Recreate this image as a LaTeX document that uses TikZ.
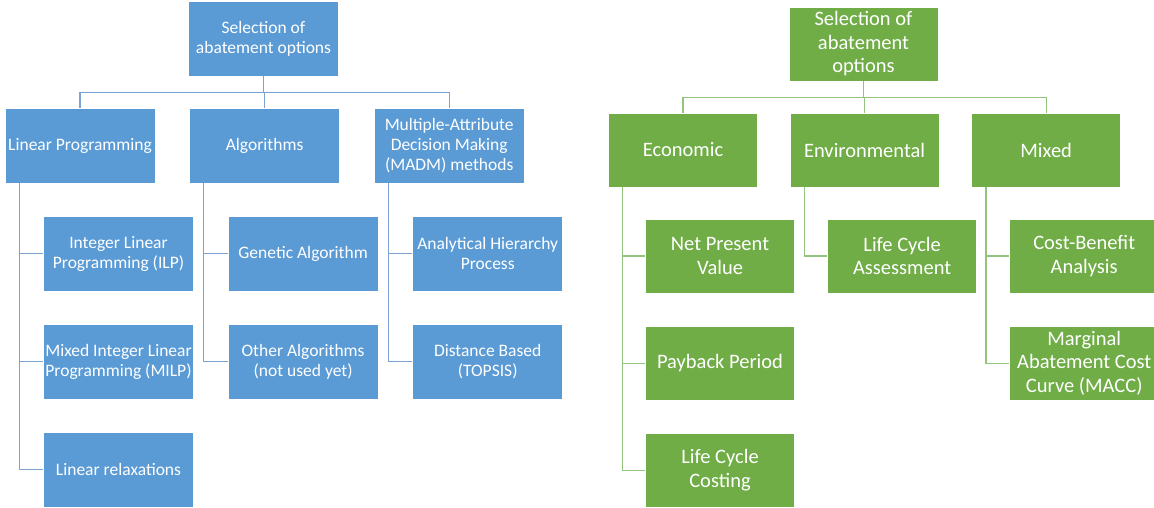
\documentclass[tikz,border=0pt]{standalone}
\usepackage{fontspec}
\setmainfont{Carlito}
\usepackage{xcolor}
\usepackage{tikz}
\usetikzlibrary{positioning}

\definecolor{boxblue}{HTML}{5B9BD5}
\definecolor{lineblue}{HTML}{7BA3D1}
\definecolor{boxgreen}{HTML}{70AD47}
\definecolor{linegreen}{HTML}{93C47D}

\begin{document}
\begin{tikzpicture}[x=1pt,y=-1pt,
  blue node/.style={rectangle,fill=boxblue,draw=white,line width=0.6pt,
    minimum width=150pt,minimum height=75pt,inner sep=1pt,align=center,
    text=white,font=\fontsize{17.5}{20}\selectfont},
  green node/.style={rectangle,fill=boxgreen,draw=white,line width=0.6pt,
    minimum width=149pt,minimum height=74pt,inner sep=1pt,align=center,
    text=white,font=\fontsize{20.5}{23.5}\selectfont},
  blue line/.style={draw=lineblue,line width=1.2pt},
  green line/.style={draw=linegreen,line width=1.2pt}]

  \useasboundingbox (0,0) rectangle (1154,507);

  % left tree
  \node[blue node] (broot) at (263.5,38.5) {Selection of\\abatement options};
  \node[blue node] (lp) at (80,145.5) {Linear Programming};
  \node[blue node] (alg) [right=34pt of lp] {Algorithms};
  \node[blue node] (madm) [right=34pt of alg] {Multiple-Attribute\\Decision Making\\(MADM) methods};

  \node[blue node] (ilp) at (118.5,253.5) {Integer Linear\\Programming (ILP)};
  \node[blue node] (milp) [below=32.5pt of ilp] {Mixed Integer Linear\\Programming (MILP)};
  \node[blue node] (lr) [below=32.5pt of milp] {Linear relaxations};
  \node[blue node] (ga) [right=34pt of ilp] {Genetic Algorithm};
  \node[blue node] (oa) [below=32.5pt of ga] {Other Algorithms\\(not used yet)};
  \node[blue node] (ahp) [right=34pt of ga] {Analytical Hierarchy\\Process};
  \node[blue node] (db) [below=32.5pt of ahp] {Distance Based\\(TOPSIS)};

  \foreach \n in {lp,alg,madm}
    \draw[blue line] (broot.south) -- ++(0,16.5) -| (\n.north);
  \foreach \p/\c in {lp/ilp,lp/milp,lp/lr,alg/ga,alg/oa,madm/ahp,madm/db}
    \draw[blue line] ([xshift=14.5pt]\p.south west) |- (\c.west);

  % right tree
  \node[green node] (groot) at (863.5,44) {Selection of\\abatement\\options};
  \node[green node] (econ) at (683,150) {Economic};
  \node[green node] (env) [right=32pt of econ] {Environmental};
  \node[green node] (mixed) [right=32pt of env] {Mixed};

  \node[green node] (npv) at (720,256) {Net Present\\Value};
  \node[green node] (pp) [below=32.5pt of npv] {Payback Period};
  \node[green node] (lcc) [below=32.5pt of pp] {Life Cycle\\Costing};
  \node[green node] (lca) [right=32.5pt of npv] {Life Cycle\\Assessment};
  \node[green node] (cba) [right=32.5pt of lca] {Cost-Benefit\\Analysis};
  \node[green node] (macc) [below=32.5pt of cba] {Marginal\\Abatement Cost\\Curve (MACC)};

  \foreach \n in {econ,env,mixed}
    \draw[green line] (groot.south) -- ++(0,16) -| (\n.north);
  \foreach \p/\c in {econ/npv,econ/pp,econ/lcc,env/lca,mixed/cba,mixed/macc}
    \draw[green line] ([xshift=14.5pt]\p.south west) |- (\c.west);
\end{tikzpicture}
\end{document}
